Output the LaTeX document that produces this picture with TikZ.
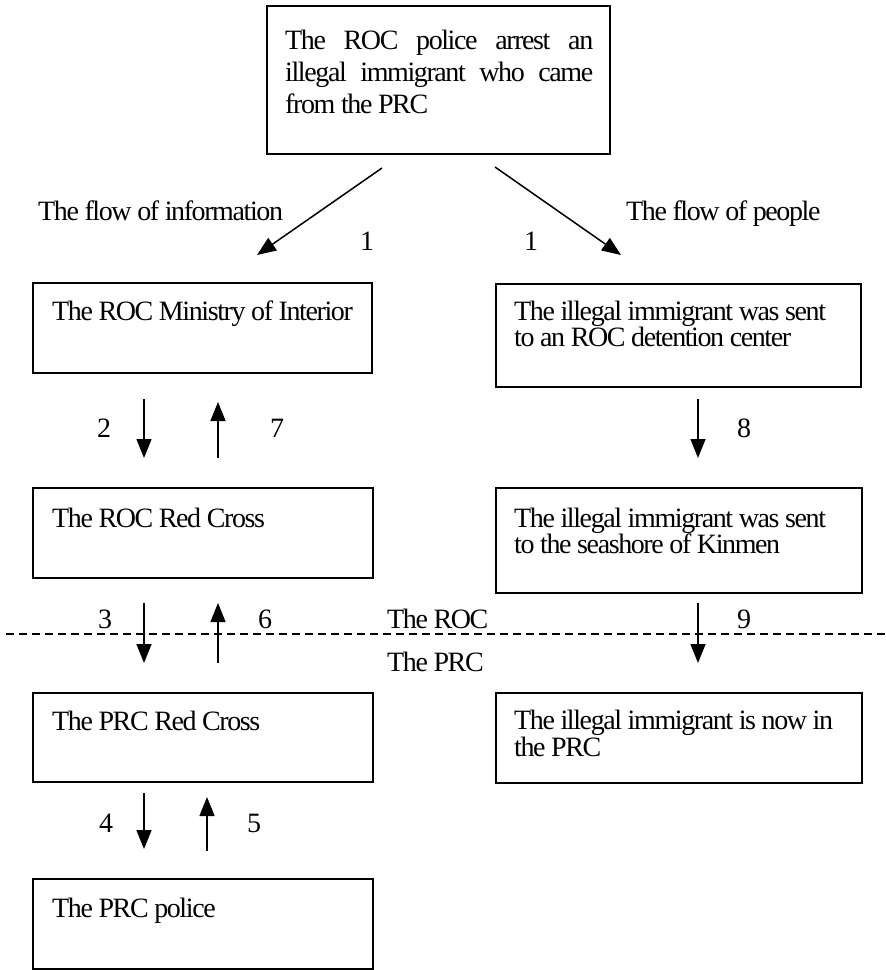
\documentclass[tikz,border=0pt]{standalone}
\usepackage{fontspec}
\setmainfont{Liberation Serif}[LetterSpace=-5]
\usetikzlibrary{arrows.meta,calc}
\begin{document}
\begin{tikzpicture}[x=1pt,y=-1pt,
  box/.style={draw,line width=1.7pt,inner sep=0pt,anchor=north west},
  txt/.style={anchor=base west,inner sep=0pt,font=\fontsize{28}{30}\selectfont},
  num/.style={anchor=center,inner sep=0pt,font=\fontsize{28}{30}\selectfont},
  arr/.style={line width=1.5pt,-{Triangle[length=19pt,width=15pt]}},
  sep/.style={line width=1.5pt,dash pattern=on 8pt off 5pt}]
\useasboundingbox (0,0) rectangle (886,970);
% boxes
\node[box,minimum width=343pt,minimum height=148pt] (top) at (266,5) {};
\node[box,minimum width=339pt,minimum height=90pt] (mi) at (32,282) {};
\node[box,minimum width=365pt,minimum height=103pt] (det) at (495,283) {};
\node[box,minimum width=340pt,minimum height=90pt] (rrc) at (32,487) {};
\node[box,minimum width=366pt,minimum height=105pt] (kin) at (495,487) {};
\node[box,minimum width=340pt,minimum height=89pt] (prc) at (32,692) {};
\node[box,minimum width=366pt,minimum height=90pt] (now) at (495,692) {};
\node[box,minimum width=340pt,minimum height=90pt] (pol) at (32,878) {};
% box texts
\node[txt] (t1) at (285,49) {\makebox[308pt][s]{The ROC police arrest an}};
\node[txt] (t2) at (285,81) {\makebox[308pt][s]{illegal immigrant who came}};
\node[txt] (t3) at (285,113) {from the PRC};
\node[txt] (mit) at (52,320) {The ROC Ministry of Interior};
\node[txt] (det1) at (514,320) {The illegal immigrant was sent};
\node[txt] (det2) at (514,346) {to an ROC detention center};
\node[txt] (rrct) at (52,527) {The ROC Red Cross};
\node[txt] (kin1) at (514,527) {The illegal immigrant was sent};
\node[txt] (kin2) at (514,553) {to the seashore of Kinmen};
\node[txt] (prct) at (52,730) {The PRC Red Cross};
\node[txt] (now1) at (514,729) {The illegal immigrant is now in};
\node[txt] (now2) at (514,756) {the PRC};
\node[txt] (polt) at (52,917) {The PRC police};
% free labels
\node[txt] (finfo) at (38,220) {The flow of information};
\node[txt] (fpeop) at (626,220) {The flow of people};
\node[txt] (roc) at (387,628) {The ROC};
\node[txt] (prcl) at (387,671) {The PRC};
% numbers
\node[num] (n1a) at (367,241) {1};
\node[num] (n1b) at (531,241) {1};
\node[num] (n2) at (104,428) {2};
\node[num] (n7) at (277,428) {7};
\node[num] (n8) at (744,428) {8};
\node[num] (n3) at (105,619) {3};
\node[num] (n6) at (265,619) {6};
\node[num] (n9) at (744,619) {9};
\node[num] (n4) at (106,823) {4};
\node[num] (n5) at (254,823) {5};
% arrow end points
\coordinate (a1s) at (382,168); \coordinate (a1e) at (257,255);
\coordinate (b1s) at (495,167); \coordinate (b1e) at (621,255);
\coordinate (a2s) at (144,399); \coordinate (a2e) at (144,458);
\coordinate (a7s) at (218,458); \coordinate (a7e) at (218,402);
\coordinate (a8s) at (698,399); \coordinate (a8e) at (698,458);
\coordinate (a3s) at (144,603); \coordinate (a3e) at (144,663);
\coordinate (a6s) at (218,663); \coordinate (a6e) at (218,603);
\coordinate (a9s) at (698,603); \coordinate (a9e) at (698,663);
\coordinate (a4s) at (144,793); \coordinate (a4e) at (144,849);
\coordinate (a5s) at (207,851); \coordinate (a5e) at (207,797);
\coordinate (ls) at (6,634); \coordinate (le) at (886,634);
% dashed border
\draw[sep] (ls) -- (le);
% arrows
\foreach \a in {a1,b1,a2,a7,a8,a3,a6,a9,a4,a5}
  \draw[arr] (\a s) -- (\a e);
\end{tikzpicture}
\end{document}
